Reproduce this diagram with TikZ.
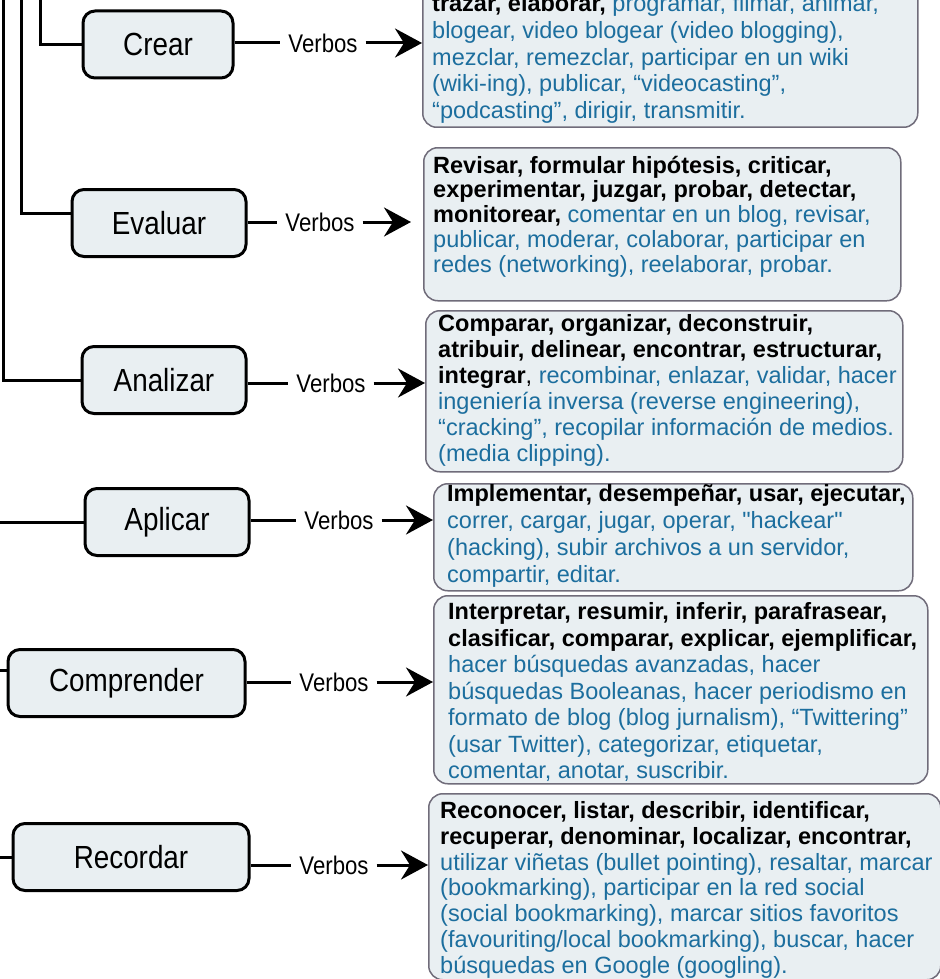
\documentclass[tikz,border=0pt]{standalone}
\usepackage{fontspec}
\setmainfont{Liberation Sans}
\newfontfamily\etiqfont{Liberation Sans}[FakeStretch=0.87]
\usetikzlibrary{arrows.meta}

\definecolor{fondo}{RGB}{233,239,242}
\definecolor{borde}{RGB}{112,108,122}
\definecolor{azul}{RGB}{28,110,158}
\newcommand{\fuerte}[1]{\textbf{\color{black}#1}}
\newcommand{\recto}[1]{{\addfontfeature{Ligatures=TeXOff}"#1"}}

\begin{document}
\begin{tikzpicture}[x=1pt, y=-1pt,
        nivel/.style = {draw, line width=3pt, rounded corners=12pt, fill=fondo, minimum height=67pt, font=\etiqfont\fontsize{32pt}{36pt}\selectfont},
        verbo/.style = {inner xsep=8pt, inner ysep=2pt, font=\etiqfont\fontsize{25.5pt}{28pt}\selectfont},
        caja/.style = {draw=borde, line width=1.5pt, fill=fondo, rounded corners=14pt, anchor=north west, inner sep=0pt},
        txt/.style = {anchor=north west, inner sep=0pt, align=left, text=azul, font=\fontsize{23.5pt}{#1}\selectfont},
        linea/.style = {line width=3pt},
        flecha/.style = {line width=3pt, -{Stealth[length=27pt, width=29pt, inset=9pt]}}]
        \path[use as bounding box, fill=white] (0,0) rectangle (939,979);

        % niveles
        \node[nivel, minimum width=150pt] at (158,44.5) (crear) {Crear};
        \node[nivel, minimum width=174pt] at (159,223) (evaluar) {Evaluar};
        \node[nivel, minimum width=164pt] at (164,380) (analizar) {Analizar};
        \node[nivel, minimum width=164pt] at (167,522) (aplicar) {Aplicar};
        \node[nivel, minimum width=237pt] at (126.5,683) (comprender) {Comprender};
        \node[nivel, minimum width=236pt] at (131,857) (recordar) {Recordar};

        \node[verbo] at (323,43) (vcrear) {Verbos};
        \node[verbo] at (320,222) (vevaluar) {Verbos};
        \node[verbo] at (331,383) (vanalizar) {Verbos};
        \node[verbo] at (339,520) (vaplicar) {Verbos};
        \node[verbo] at (334,682) (vcomprender) {Verbos};
        \node[verbo] at (334,865) (vrecordar) {Verbos};

        % cajas de texto
        \node[caja, anchor=south west, minimum width=495pt, minimum height=160pt] at (422,128) (tcrear) {};
        \node[caja, minimum width=477pt, minimum height=153pt] at (423,147) (tevaluar) {};
        \node[caja, minimum width=477pt, minimum height=161pt] at (425,310) (tanalizar) {};
        \node[caja, minimum width=479pt, minimum height=107pt] at (433,483) (taplicar) {};
        \node[caja, minimum width=494pt, minimum height=188pt] at (433,595) (tcomprender) {};
        \node[caja, minimum width=512pt, minimum height=186pt] at (428,793) (trecordar) {};

        \node[txt=26.6pt] at (432,-8.3) (xcrear) {\rule{0pt}{20pt}\fuerte{trazar, elaborar,} programar, filmar, animar,\\
            blogear, video blogear (video blogging),\\
            mezclar, remezclar, participar en un wiki\\
            (wiki-ing), publicar, “videocasting”,\\
            “podcasting”, dirigir, transmitir.};
        \node[txt=24.7pt] at (433,153) (xevaluar) {\rule{0pt}{20pt}\fuerte{Revisar, formular hipótesis, criticar,}\\
            \fuerte{experimentar, juzgar, probar, detectar,}\\
            \fuerte{monitorear,} comentar en un blog, revisar,\\
            publicar, moderar, colaborar, participar en\\
            redes (networking), reelaborar, probar.};
        \node[txt=26.1pt] at (438,311) (xanalizar) {\rule{0pt}{20pt}\fuerte{Comparar, organizar, deconstruir,}\\
            \fuerte{atribuir, delinear, encontrar, estructurar,}\\
            \fuerte{integrar}\textcolor{black}{,} recombinar, enlazar, validar, hacer\\
            ingeniería inversa (reverse engineering),\\
            “cracking”, recopilar información de medios.\\
            (media clipping).};
        \node[txt=26.8pt] at (447,481.5) (xaplicar) {\rule{0pt}{20pt}\fuerte{Implementar, desempeñar, usar, ejecutar,}\\
            correr, cargar, jugar, operar, \recto{hackear}\\
            (hacking), subir archivos a un servidor,\\
            compartir, editar.};
        \node[txt=26.5pt] at (448,599.3) (xcomprender) {\rule{0pt}{20pt}\fuerte{Interpretar, resumir, inferir, parafrasear,}\\
            \fuerte{clasificar, comparar, explicar, ejemplificar,}\\
            hacer búsquedas avanzadas, hacer\\
            búsquedas Booleanas, hacer periodismo en\\
            formato de blog (blog jurnalism), “Twittering”\\
            (usar Twitter), categorizar, etiquetar,\\
            comentar, anotar, suscribir.};
        \node[txt=25.8pt] at (440,798.3) (xrecordar) {\rule{0pt}{20pt}\fuerte{Reconocer, listar, describir, identificar,}\\
            \fuerte{recuperar, denominar, localizar, encontrar,}\\
            utilizar viñetas (bullet pointing), resaltar, marcar\\
            (bookmarking), participar en la red social\\
            (social bookmarking), marcar sitios favoritos\\
            (favouriting/local bookmarking), buscar, hacer\\
            búsquedas en Google (googling).};

        % tronco de la izquierda
        \coordinate (t1) at (40,-10);
        \coordinate (t2) at (21,-10);
        \coordinate (t3) at (3,-10);
        \coordinate (t4) at (-10,522);
        \coordinate (t5) at (-10,670);
        \coordinate (t6) at (-10,857);
        \draw[linea] (t1) |- (crear.west);
        \draw[linea] (t2) |- ([yshift=10pt]evaluar.west);
        \draw[linea] (t3) |- (analizar.west);
        \draw[linea] (t4) -- (aplicar.west);
        \draw[linea] (t5) -- (t5 -| comprender.west);
        \draw[linea] (t6) -- (recordar.west);

        \draw[linea] (crear.east |- vcrear.west) -- (vcrear.west);
        \draw[linea] (evaluar.east |- vevaluar.west) -- (vevaluar.west);
        \draw[linea] (analizar.east |- vanalizar.west) -- (vanalizar.west);
        \draw[linea] (aplicar.east |- vaplicar.west) -- (vaplicar.west);
        \draw[linea] (comprender.east |- vcomprender.west) -- (vcomprender.west);
        \draw[linea] (recordar.east |- vrecordar.west) -- (vrecordar.west);

        \draw[flecha] (vcrear.east) -- (vcrear.east -| tcrear.west);
        \draw[flecha, shorten >=12pt] (vevaluar.east) -- (vevaluar.east -| tevaluar.west);
        \draw[flecha] (vanalizar.east) -- (vanalizar.east -| tanalizar.west);
        \draw[flecha] (vaplicar.east) -- (vaplicar.east -| taplicar.west);
        \draw[flecha] (vcomprender.east) -- (vcomprender.east -| tcomprender.west);
        \draw[flecha] (vrecordar.east) -- (vrecordar.east -| trecordar.west);
\end{tikzpicture}
\end{document}
